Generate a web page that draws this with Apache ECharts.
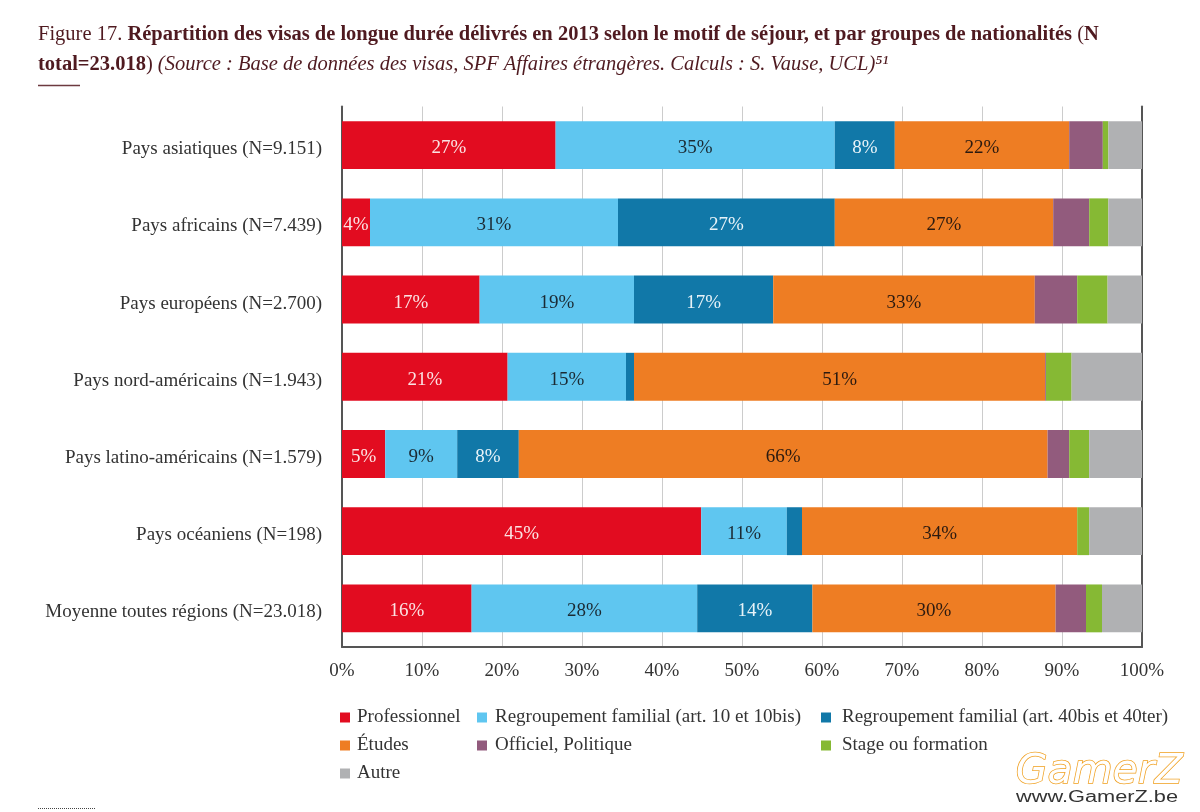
<!DOCTYPE html>
<html>
<head>
<meta charset="utf-8">
<style>
	html, body { margin: 0; padding: 0; background: #fff; }
	#chart { width: 1200px; height: 812px; }
</style>
<script src="https://cdn.jsdelivr.net/npm/echarts@6/dist/echarts.min.js"></script>
</head>
<body>
<div id="chart"></div>
<script>
const categories = [
	'Pays asiatiques (N=9.151)',
	'Pays africains (N=7.439)',
	'Pays européens (N=2.700)',
	'Pays nord-américains (N=1.943)',
	'Pays latino-américains (N=1.579)',
	'Pays océaniens (N=198)',
	'Moyenne toutes régions (N=23.018)'
]

// valeurs, en %
const professionnel = [26.7, 3.5, 17.2, 20.7, 5.4, 44.9, 16.2]
const regroupement10 = [34.9, 31.0, 19.3, 14.8, 9.0, 10.7, 28.2]
const regroupement40 = [7.5, 27.1, 17.4, 1.0, 7.7, 1.9, 14.4]
const etudes = [21.8, 27.3, 32.7, 51.4, 66.1, 34.4, 30.4]
const officiel = [4.2, 4.5, 5.3, 0.1, 2.7, 0, 3.8]
const stage = [0.7, 2.4, 3.8, 3.2, 2.5, 1.5, 2.0]
const autre = [4.2, 4.2, 4.3, 8.8, 6.6, 6.6, 5.0]

const serif = '"Liberation Serif", serif'
const textColor = '#333'
const titleColor = '#4f1a20'
const titleSize = 20.5

const myChart = echarts.init(document.getElementById('chart'))

function barSeries(name, data, color, labelColor) {
	return {
		name: name,
		type: 'bar',
		stack: 'total',
		barCategoryGap: '38%',
		data: data,
		itemStyle: { color: color },
		label: {
			show: !!labelColor,
			position: 'inside',
			offset: [0, 3],
			color: labelColor,
			fontFamily: serif,
			fontSize: 19,
			formatter: function (p) {
				return p.value >= 3 ? Math.round(p.value) + '%' : ''
			}
		}
	}
}

function legendColumn(left, names, textPadding) {
	return {
		left: left,
		top: 703,
		orient: 'vertical',
		icon: 'rect',
		itemWidth: 10,
		itemHeight: 10,
		itemGap: 9,
		data: names,
		selectedMode: false,
		textStyle: {
			color: textColor,
			fontFamily: serif,
			fontSize: 19,
			height: 18,
			lineHeight: 18,
			padding: textPadding
		}
	}
}

myChart.setOption({
	animation: false,
	backgroundColor: '#fff',
	title: [{
		left: 33,
		top: 19,
		text: '{a|Figure 17. }{b|Répartition des visas de longue durée délivrés en 2013 selon le motif de séjour, et par groupes de nationalités }{a|(}{b|N}',
		textStyle: {
			fontWeight: 'normal',
			rich: {
				a: { fontFamily: serif, fontSize: titleSize, fontWeight: 'normal', color: titleColor },
				b: { fontFamily: serif, fontSize: titleSize, fontWeight: 'bold', color: titleColor }
			}
		}
	}, {
		left: 33,
		top: 49,
		text: '{b|total=23.018}{a|) }{i|(Source : Base de données des visas, SPF Affaires étrangères. Calculs : S. Vause, UCL)⁵¹}',
		textStyle: {
			fontWeight: 'normal',
			rich: {
				a: { fontFamily: serif, fontSize: titleSize, fontWeight: 'normal', color: titleColor },
				b: { fontFamily: serif, fontSize: titleSize, fontWeight: 'bold', color: titleColor },
				i: { fontFamily: serif, fontSize: titleSize, fontWeight: 'normal', fontStyle: 'italic', color: titleColor }
			}
		}
	}],
	legend: [
		legendColumn(335, ['Professionnel', 'Études', 'Autre'], [0, 0, 0, 2]),
		legendColumn(472, ['Regroupement familial (art. 10 et 10bis)', 'Officiel, Politique'], [0, 0, 0, 3]),
		legendColumn(816, ['Regroupement familial (art. 40bis et 40ter)', 'Stage ou formation'], [0, 0, 0, 6])
	],
	grid: { left: 342, right: 58, top: 106.5, height: 540.5 },
	xAxis: {
		type: 'value',
		min: 0,
		max: 100,
		interval: 10,
		axisLine: { show: true, lineStyle: { color: '#555', width: 2 } },
		axisTick: { show: false },
		axisLabel: {
			formatter: '{value}%',
			color: textColor,
			fontFamily: serif,
			fontSize: 19,
			margin: 15
		},
		splitLine: { show: true, lineStyle: { color: '#ccc', width: 1 } }
	},
	yAxis: [{
		type: 'category',
		inverse: true,
		data: categories,
		axisLine: { show: true, lineStyle: { color: '#555', width: 2 } },
		axisTick: { show: false },
		axisLabel: {
			margin: 20,
			formatter: function (value) {
				return '{l|' + value + '}'
			},
			rich: {
				l: {
					color: textColor,
					fontFamily: serif,
					fontSize: 19,
					padding: [8, 0, 0, 0]
				}
			}
		}
	}, {
		type: 'category',
		inverse: true,
		position: 'right',
		data: categories,
		axisLine: { show: true, lineStyle: { color: '#555', width: 2 } },
		axisTick: { show: false },
		axisLabel: { show: false }
	}],
	series: [
		barSeries('Professionnel', professionnel, '#e20c20', '#fbe3e3'),
		barSeries('Regroupement familial (art. 10 et 10bis)', regroupement10, '#5fc6f0', '#1b2a33'),
		barSeries('Regroupement familial (art. 40bis et 40ter)', regroupement40, '#1178a8', '#e8f3f8'),
		barSeries('Études', etudes, '#ee7d23', '#2b1a10'),
		barSeries('Officiel, Politique', officiel, '#925b7d'),
		barSeries('Stage ou formation', stage, '#86b934'),
		barSeries('Autre', autre, '#b0b1b3')
	],
	graphic: [
		{ type: 'line', shape: { x1: 38, y1: 85.5, x2: 80, y2: 85.5 }, style: { stroke: '#6d3a40', lineWidth: 1.5 } },
		{ type: 'line', shape: { x1: 38, y1: 808.5, x2: 95, y2: 808.5 }, style: { stroke: '#444', lineWidth: 1, lineDash: [1, 1] } },
		{
			type: 'text',
			left: 1015,
			top: 751,
			style: {
				text: 'GamerZ',
				fontFamily: '"DejaVu Sans", sans-serif',
				fontStyle: 'italic',
				fontSize: 41,
				fill: '#fff',
				stroke: '#f0a020',
				lineWidth: 1.5
			}
		},
		{
			type: 'text',
			x: 1016,
			y: 790,
			scaleX: 1.36,
			style: {
				text: 'www.GamerZ.be',
				fontFamily: '"Liberation Sans", sans-serif',
				fontSize: 16,
				fill: '#333'
			}
		}
	]
})
</script>
</body>
</html>
